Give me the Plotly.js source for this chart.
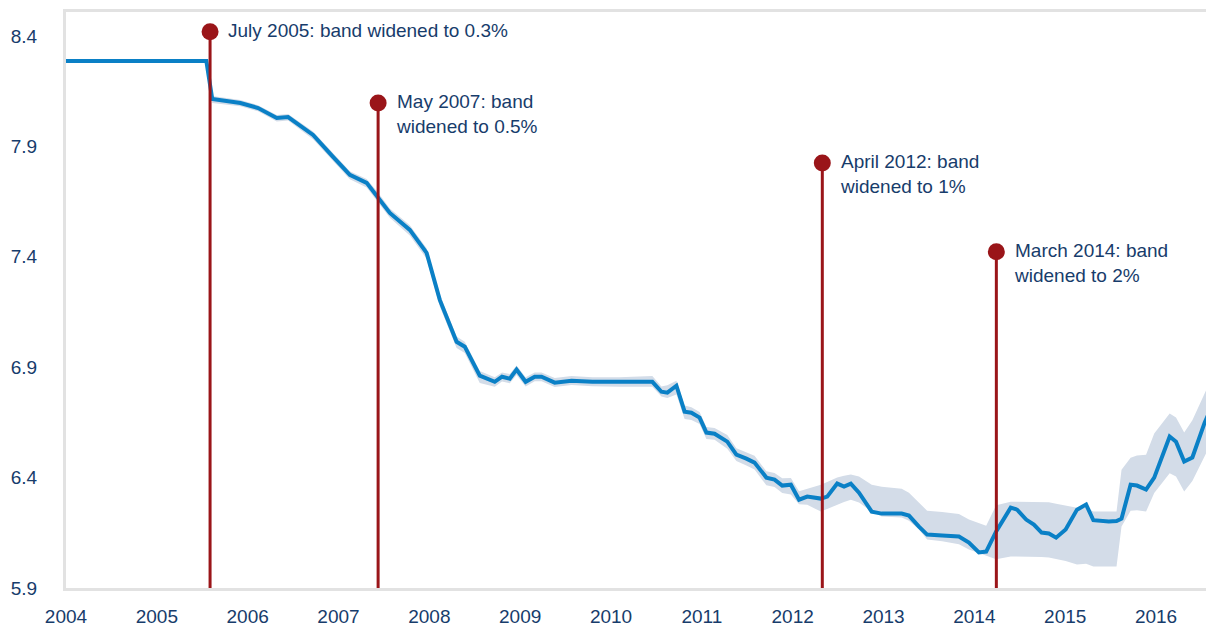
<!DOCTYPE html>
<html>
<head>
<meta charset="utf-8">
<script src="https://cdn.plot.ly/plotly-3.0.1.min.js"></script>
<style>html,body{margin:0;padding:0;background:#fff;}#chart{width:1206px;height:628px;}</style>
</head>
<body>
<div id="chart"></div>
<script>
// Exchange rate (CNY per USD), decimal years
const years = [2004.0, 2004.9, 2005.545, 2005.61, 2005.92, 2006.115, 2006.32, 2006.445, 2006.72, 2006.94,
  2007.125, 2007.31, 2007.435, 2007.565, 2007.785, 2007.97, 2008.115, 2008.30, 2008.39, 2008.555,
  2008.72, 2008.80, 2008.885, 2008.96, 2009.06, 2009.16, 2009.235, 2009.38, 2009.565, 2009.795,
  2010.09, 2010.455, 2010.555, 2010.62, 2010.72, 2010.81, 2010.885, 2010.975, 2011.05, 2011.14,
  2011.28, 2011.38, 2011.49, 2011.58, 2011.71, 2011.80, 2011.885, 2011.98, 2012.07, 2012.16,
  2012.31, 2012.38, 2012.49, 2012.565, 2012.64, 2012.73, 2012.87, 2012.98, 2013.20, 2013.28,
  2013.39, 2013.48, 2013.645, 2013.83, 2013.94, 2014.05, 2014.13, 2014.24, 2014.40, 2014.47,
  2014.57, 2014.655, 2014.74, 2014.82, 2014.90, 2015.005, 2015.13, 2015.23, 2015.31, 2015.48,
  2015.565, 2015.62, 2015.72, 2015.79, 2015.89, 2015.98, 2016.15, 2016.22, 2016.31, 2016.40,
  2016.535, 2016.60];
const rate = [8.287, 8.285, 8.287, 8.115, 8.097, 8.074, 8.029, 8.033, 7.952, 7.853,
  7.771, 7.735, 7.671, 7.599, 7.522, 7.418, 7.205, 7.015, 6.993, 6.862,
  6.834, 6.857, 6.848, 6.889, 6.834, 6.857, 6.857, 6.830, 6.839, 6.834,
  6.834, 6.834, 6.789, 6.785, 6.816, 6.699, 6.694, 6.672, 6.604, 6.599,
  6.563, 6.504, 6.486, 6.468, 6.400, 6.391, 6.364, 6.368, 6.300, 6.314,
  6.305, 6.314, 6.373, 6.359, 6.373, 6.332, 6.246, 6.237, 6.237, 6.228,
  6.178, 6.142, 6.138, 6.133, 6.106, 6.061, 6.065, 6.156, 6.264, 6.255,
  6.210, 6.187, 6.151, 6.147, 6.128, 6.165, 6.255, 6.278, 6.207, 6.201,
  6.203, 6.214, 6.368, 6.364, 6.346, 6.400, 6.586, 6.563, 6.473, 6.491,
  6.649, 6.708];

// Trading band (from July 2005)
const bandYears = years.slice(2);
const bandUpper = [8.287, 8.128, 8.110, 8.087, 8.043, 8.047, 7.968, 7.870,
  7.788, 7.753, 7.691, 7.619, 7.543, 7.439, 7.229, 7.039, 7.015, 6.883,
  6.855, 6.876, 6.869, 6.908, 6.855, 6.876, 6.876, 6.851, 6.860, 6.855,
  6.855, 6.860, 6.813, 6.818, 6.839, 6.727, 6.719, 6.697, 6.629, 6.625,
  6.593, 6.533, 6.515, 6.499, 6.429, 6.421, 6.397, 6.398, 6.338, 6.349,
  6.368, 6.380, 6.400, 6.408, 6.414, 6.405, 6.368, 6.359, 6.350, 6.332,
  6.287, 6.250, 6.244, 6.235, 6.210, 6.195, 6.182, 6.275, 6.291, 6.291,
  6.291, 6.290, 6.289, 6.288, 6.282, 6.275, 6.264, 6.262, 6.246, 6.246,
  6.246, 6.436, 6.490, 6.500, 6.504, 6.600, 6.690, 6.672, 6.604, 6.660,
  6.785, 6.840];
const bandLower = [8.287, 8.097, 8.082, 8.059, 8.013, 8.017, 7.933, 7.833,
  7.752, 7.714, 7.649, 7.577, 7.497, 7.391, 7.175, 6.987, 6.965, 6.829,
  6.812, 6.835, 6.827, 6.865, 6.813, 6.837, 6.837, 6.810, 6.819, 6.814,
  6.812, 6.812, 6.767, 6.761, 6.777, 6.665, 6.661, 6.643, 6.575, 6.571,
  6.531, 6.475, 6.455, 6.437, 6.365, 6.357, 6.330, 6.323, 6.279, 6.277,
  6.246, 6.258, 6.280, 6.290, 6.300, 6.287, 6.246, 6.224, 6.219, 6.205,
  6.165, 6.120, 6.112, 6.098, 6.074, 6.058, 6.045, 6.030, 6.043, 6.043,
  6.043, 6.043, 6.040, 6.038, 6.032, 6.022, 6.006, 6.010, 5.997, 5.997,
  5.997, 6.178, 6.250, 6.252, 6.246, 6.330, 6.420, 6.405, 6.337, 6.385,
  6.495, 6.550];

// Band widening events
const eventYears = [2005.586, 2007.436, 2012.326, 2014.242];
const eventTops = [8.42, 8.097, 7.825, 7.423];
const eventLabels = ["July 2005: band widened to 0.3%", "May 2007: band<br>widened to 0.5%",
  "April 2012: band<br>widened to 1%", "March 2014: band<br>widened to 2%"];

const yTicks = [5.9, 6.4, 6.9, 7.4, 7.9, 8.4];
const xTicks = [2004, 2005, 2006, 2007, 2008, 2009, 2010, 2011, 2012, 2013, 2014, 2015, 2016];

const navy = "#173c6b";
const red = "#9a1519";
const font = "Liberation Sans, Arial, sans-serif";

const traces = [
  {x: bandYears, y: bandLower, mode: "lines", line: {width: 0, color: "rgba(0,0,0,0)"}, hoverinfo: "skip"},
  {x: bandYears, y: bandUpper, mode: "lines", fill: "tonexty", fillcolor: "#d3dce8", line: {width: 0, color: "rgba(0,0,0,0)"}, hoverinfo: "skip"},
  {x: years, y: rate, mode: "lines", line: {color: "#0a80c6", width: 4}}
];
eventYears.forEach((ex, i) => {
  traces.push({
    x: [ex, ex], y: [yTicks[0], eventTops[i]], mode: "lines",
    line: {color: red, width: 3}, cliponaxis: false
  });
});
traces.push({
  x: eventYears, y: eventTops, mode: "markers",
  marker: {color: red, size: 17, opacity: 1, line: {width: 0}}, cliponaxis: false
});

const annotations = eventYears.map((ex, i) => ({
  x: ex, y: eventTops[i], xref: "x", yref: "y",
  text: eventLabels[i], showarrow: false,
  xanchor: "left", yanchor: "top", align: "left",
  xshift: 16, yshift: 14,
  font: {family: font, size: 19, color: navy}
}));

const layout = {
  width: 1206, height: 628,
  margin: {l: 66, r: 0, t: 12, b: 40},
  paper_bgcolor: "#fff", plot_bgcolor: "#fff",
  showlegend: false, hovermode: false,
  font: {family: font, size: 19, color: navy},
  xaxis: {
    range: [2004.0, 2016.55], tickvals: xTicks, ticktext: xTicks.map(String),
    showgrid: false, zeroline: false, showline: true, linecolor: "#e2e2e2", linewidth: 3,
    mirror: true, ticks: "", ticklabelstandoff: 9,
    tickfont: {family: font, size: 19, color: navy}
  },
  yaxis: {
    range: [5.9, 8.509], tickvals: yTicks, ticktext: yTicks.map(v => v.toFixed(1)),
    showgrid: false, zeroline: false, showline: true, linecolor: "#e2e2e2", linewidth: 3,
    mirror: false, ticks: "", ticklabelstandoff: 22,
    tickfont: {family: font, size: 19, color: navy}
  },
  annotations: annotations
};

Plotly.newPlot("chart", traces, layout, {displayModeBar: false, staticPlot: true});
</script>
</body>
</html>
